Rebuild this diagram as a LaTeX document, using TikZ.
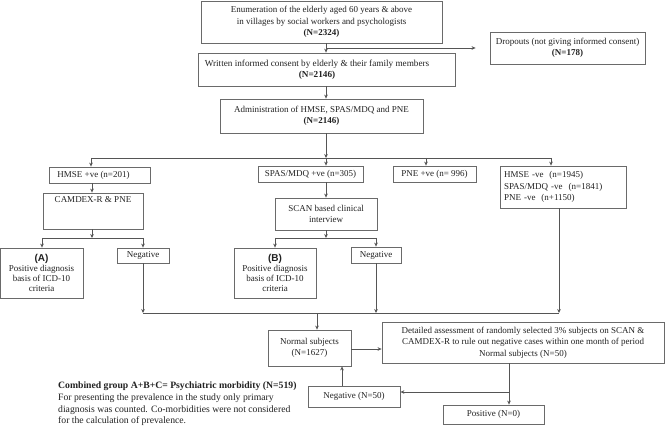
\documentclass[tikz,border=0pt]{standalone}
\usepackage{fontspec}
\setmainfont{Liberation Serif}
\newfontfamily\arialfont{Liberation Sans}
\usetikzlibrary{arrows.meta}
\definecolor{boxgray}{HTML}{6A6A6A}
\definecolor{linegray}{HTML}{555555}
\definecolor{txt}{HTML}{222222}
\newcommand\lettrfont{\arialfont\bfseries\fontsize{10}{10}\selectfont}
\begin{document}
\begin{tikzpicture}[x=1pt,y=-1pt,
  box/.style={draw=boxgray, line width=0.8pt, inner sep=0pt, align=center, text=txt,
    font=\fontsize{9}{11.5}\selectfont},
  tightbox/.style={box, font=\fontsize{9}{9.8}\selectfont},
  arr/.style={draw=linegray, line width=0.8pt, -{Stealth[length=4pt,width=3.6pt]}},
  ln/.style={draw=linegray, line width=0.8pt}]
\useasboundingbox (0,0) rectangle (666,430);
\fill[white] (0,0) rectangle (666,430);

% boxes
\node[box, minimum width=241pt, minimum height=42pt] (b1) at (321.5,22)
  {Enumeration of the elderly aged 60 years \& above\\in villages by social workers and psychologists\\\textbf{(N=2324)}};
\node[box, minimum width=257pt, minimum height=33pt, font=\fontsize{9.2}{11.5}\selectfont] (cons) at (326.5,69.5)
  {Written informed consent by elderly \& their family members\hspace*{19pt}\\\textbf{(N=2146)}\hspace*{19pt}};
\node[box, minimum width=203pt, minimum height=34pt] (adm) at (321.5,116)
  {Administration of HMSE, SPAS/MDQ and PNE\\\textbf{(N=2146)}};
\node[box, minimum width=155pt, minimum height=32pt] (drop) at (567.5,48)
  {Dropouts (not giving informed consent)\\\textbf{(N=178)}};
\node[box, minimum width=101pt, minimum height=16pt] (hmse) at (99.5,175) {HMSE +ve (n=201)\hspace*{12pt}};
\node[box, minimum width=100pt, text height=10pt, text depth=26pt] (camd) at (93,211) {CAMDEX-R \& PNE};
\node[box, minimum width=105pt, minimum height=16pt] (spas) at (310.5,174) {SPAS/MDQ +ve (n=305)};
\node[box, minimum width=83pt, minimum height=16pt] (pne) at (434.5,174) {PNE +ve (n= 996)};
\node[box, align=left, minimum width=126pt, minimum height=42pt, text width=118pt] (rbox) at (563,187)
  {HMSE -ve\ \ (n=1945)\\SPAS/MDQ -ve\ \ (n=1841)\\PNE -ve\ \ (n+1150)};
\node[box, minimum width=102pt, minimum height=32pt] (scan) at (326,214) {SCAN based clinical\\interview};
\node[tightbox, minimum width=83pt, minimum height=50pt] (ba) at (41.5,273)
  {{\lettrfont (A)}\\Positive diagnosis\\basis of ICD-10\\criteria};
\node[box, minimum width=52pt, minimum height=15pt] (neg1) at (143,255.5) {Negative};
\node[tightbox, minimum width=82pt, minimum height=50pt] (bb) at (275,273)
  {{\lettrfont (B)}\\Positive diagnosis\\basis of ICD-10\\criteria};
\node[box, minimum width=50pt, minimum height=16pt] (neg2) at (376,255) {Negative};
\node[box, minimum width=83pt, minimum height=36pt] (norm) at (309.5,348) {Normal subjects\\(N=1627)};
\node[box, minimum width=282pt, minimum height=41pt] (det) at (523,342.5)
  {Detailed assessment of randomly selected 3\% subjects on SCAN \&\\CAMDEX-R to rule out negative cases within one month of period\\Normal subjects (N=50)};
\node[box, minimum width=92pt, minimum height=21pt] (neg50) at (354,396.5) {Negative (N=50)};
\node[box, minimum width=101pt, minimum height=19pt] (pos) at (493.5,414.5) {Positive (N=0)};

\node[anchor=north west, inner sep=0pt, align=left, text=txt, font=\fontsize{9.7}{11.6}\selectfont] (comb) at (58,382)
  {\textbf{Combined group A+B+C= Psychiatric morbidity (N=519)}\\
   For presenting the prevalence in the study only primary\\
   diagnosis was counted. Co-morbidities were not considered\\
   for the calculation of prevalence.};

% helper coordinates
\coordinate (m) at (326,0);
\coordinate (d) at (326,48);
\coordinate (s1) at (326,158);
\coordinate (s1l) at (91,158);
\coordinate (s1r) at (551,158);
\coordinate (xp) at (426,0);
\coordinate (xh) at (92,0);
\coordinate (s2) at (92,238);
\coordinate (s2l) at (42,238);
\coordinate (s2r) at (143,238);
\coordinate (s3) at (326,238);
\coordinate (s3l) at (275,238);
\coordinate (s3r) at (376,238);
\coordinate (j1) at (143,313);
\coordinate (j2) at (376,313);
\coordinate (j3) at (559,313);
\coordinate (jn) at (317,313);
\coordinate (xr) at (559,0);
\coordinate (xd) at (509,0);
\coordinate (dj) at (509,392);
\coordinate (xu) at (342,0);
\coordinate (ya) at (0,349);

% connectors
\draw[arr] (b1.south -| m) -- (cons.north -| m);
\draw[arr, shorten >=14pt] (d) -- (drop.west);
\draw[arr] (cons.south -| m) -- (adm.north -| m);
\draw[arr] (adm.south -| m) -- (s1);
\draw[ln] (s1l) -- (s1r);
\draw[arr] (s1l) -- (hmse.north -| s1l);
\draw[arr] (s1) -- (spas.north -| s1);
\draw[arr] (s1 -| xp) -- (pne.north -| xp);
\draw[arr] (s1r) -- (rbox.north -| s1r);
\draw[arr] (hmse.south -| xh) -- (camd.north -| xh);
\draw[arr] (camd.south -| xh) -- (s2);
\draw[ln] (s2l) -- (s2r);
\draw[arr] (s2l) -- (ba.north -| s2l);
\draw[arr] (s2r) -- (neg1.north -| s2r);
\draw[arr] (spas.south -| m) -- (scan.north -| m);
\draw[arr] (scan.south -| m) -- (s3);
\draw[ln] (s3l) -- (s3r);
\draw[arr] (s3l) -- (bb.north -| s3l);
\draw[arr] (s3r) -- (neg2.north -| s3r);
\draw[arr] (neg1.south) -- (j1);
\draw[arr] (neg2.south) -- (j2);
\draw[arr] (rbox.south -| xr) -- (j3);
\draw[ln] (j1) -- (j3);
\draw[arr] (jn) -- (norm.north -| jn);
\draw[arr] (norm.east |- ya) -- (det.west |- ya);
\draw[arr] (det.south -| xd) -- (pos.north -| xd);
\draw[arr] (dj) -- (neg50.east |- dj);
\draw[arr] (neg50.north -| xu) -- (norm.south -| xu);
\end{tikzpicture}
\end{document}
